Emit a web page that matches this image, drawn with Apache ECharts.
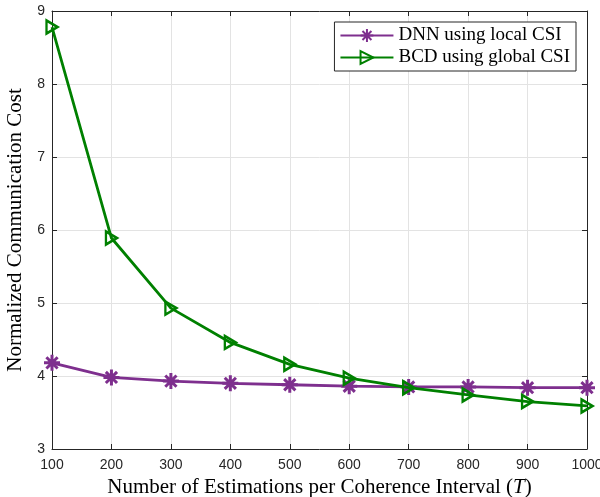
<!DOCTYPE html>
<html><head><meta charset="utf-8">
<script src="https://cdn.jsdelivr.net/npm/echarts@6/dist/echarts.min.js"></script>
<style>html,body{margin:0;padding:0;background:#fff}#c{width:600px;height:497px}</style>
</head><body><div id="c"></div>
<script>
const categories = [100,200,300,400,500,600,700,800,900,1000];
const dnnLocal = [4.18,3.98,3.93,3.90,3.88,3.86,3.85,3.85,3.84,3.84];
const bcdGlobal = [8.78,5.89,4.93,4.46,4.16,3.97,3.84,3.74,3.65,3.59];
const yTicks = [3,4,5,6,7,8,9];
const seriesNames = ['DNN using local CSI','BCD using global CSI'];

const purple = '#7E2F8E', green = '#008000';
const axisColor = '#262626';
const asterisk = 'path://M5,0L5,10M0,5L10,5M1.5,1.5L8.5,8.5M8.5,1.5L1.5,8.5';
const triRight = 'path://M0,0L10,5L0,10Z';

const chart = echarts.init(document.getElementById('c'));
const baseAxis = {
  axisLine:{show:true,lineStyle:{color:axisColor,width:1}},
  axisTick:{show:true,inside:true,length:5,lineStyle:{color:axisColor}},
  splitLine:{show:false}
};
chart.setOption({
  animation:false,
  backgroundColor:'#fff',
  grid:{left:52,right:13,top:11,bottom:48,containLabel:false,outerBoundsMode:'none'},
  legend:{
    orient:'vertical', right:24, top:22,
    backgroundColor:'#fff', borderColor:axisColor, borderWidth:1,
    padding:[4,6,4,5], itemGap:3, itemWidth:53, itemHeight:16, itemTextGap:6,
    textStyle:{fontFamily:'Liberation Serif',fontSize:19,color:'#000'},
    data:seriesNames
  },
  xAxis:[
    Object.assign({},baseAxis,{
      type:'value', min:100, max:1000, interval:100, position:'bottom',
      axisLabel:{fontFamily:'Liberation Sans',fontSize:14,color:axisColor,margin:9,formatter:v=>String(v)},
      splitLine:{show:true,lineStyle:{color:'#e3e3e3',width:1}},
      name:'Number of Estimations per Coherence Interval ({i|T})',
      nameLocation:'middle', nameGap:27,
      nameTextStyle:{fontFamily:'Liberation Serif',fontSize:21,color:'#000',rich:{i:{fontFamily:'Liberation Serif',fontStyle:'italic',fontSize:21,color:'#000'}}}
    }),
    Object.assign({},baseAxis,{type:'value',min:100,max:1000,interval:100,position:'top',axisLabel:{show:false}})
  ],
  yAxis:[
    Object.assign({},baseAxis,{
      type:'value', min:3, max:9, interval:1, position:'left',
      axisLabel:{fontFamily:'Liberation Sans',fontSize:14,color:axisColor,margin:7},
      splitLine:{show:true,lineStyle:{color:'#e3e3e3',width:1}},
      name:'Normalized Communication Cost', nameLocation:'middle', nameGap:22,
      nameTextStyle:{fontFamily:'Liberation Serif',fontSize:21,color:'#000'}
    }),
    Object.assign({},baseAxis,{type:'value',min:3,max:9,interval:1,position:'right',axisLabel:{show:false}})
  ],
  series:[
    {
      name:seriesNames[0], type:'line',
      data:categories.map((x,i)=>[x,dnnLocal[i]]),
      symbol:asterisk, symbolSize:16, showAllSymbol:true,
      lineStyle:{color:purple,width:2.8},
      itemStyle:{color:purple,borderColor:purple,borderWidth:3},
      z:3
    },
    {
      name:seriesNames[1], type:'line',
      data:categories.map((x,i)=>[x,bcdGlobal[i]]),
      symbol:triRight, symbolSize:[11,13], showAllSymbol:true,
      lineStyle:{color:green,width:2.8},
      itemStyle:{color:'rgba(255,255,255,0)',borderColor:green,borderWidth:2.5},
      z:4
    }
  ]
});
</script></body></html>
